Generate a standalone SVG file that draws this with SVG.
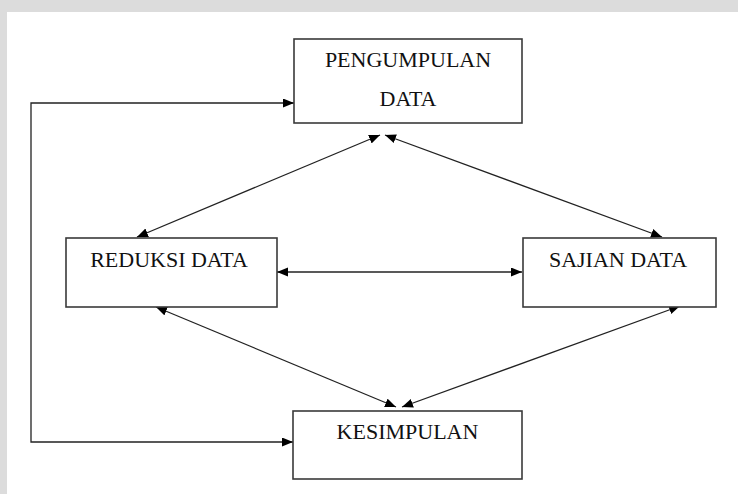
<svg xmlns="http://www.w3.org/2000/svg" width="738" height="494" viewBox="0 0 738 494">
<defs>
<style>
.box{fill:#fff;stroke:#3a3a3a;stroke-width:1.6}
.lbl{font-family:"Liberation Serif","Times New Roman",serif;font-size:22px;fill:#111;text-anchor:middle}
.con{fill:none;stroke:#222;stroke-width:1.3}
</style>
<marker id="ah" markerUnits="userSpaceOnUse" markerWidth="12" markerHeight="10" refX="11" refY="4.5" orient="auto-start-reverse">
<path d="M0,0 L11,4.5 L0,9 z" fill="#000"/>
</marker>
</defs>
<rect x="0" y="0" width="738" height="494" fill="#dcdcdc"/>
<rect x="7" y="12" width="731" height="482" fill="#fff"/>
<g id="connectors" class="con">
<path class="con" d="M294,103 H31 V442 H293" marker-start="url(#ah)" marker-end="url(#ah)"/>
<path class="con" d="M277,272 H522" marker-start="url(#ah)" marker-end="url(#ah)"/>
<path class="con" d="M380,135 L137,237" marker-start="url(#ah)" marker-end="url(#ah)"/>
<path class="con" d="M385,135 L662,237" marker-start="url(#ah)" marker-end="url(#ah)"/>
<path class="con" d="M156,307 L396,407" marker-start="url(#ah)" marker-end="url(#ah)"/>
<path class="con" d="M680,306 L402,407" marker-start="url(#ah)" marker-end="url(#ah)"/>
</g>
<g id="pengumpulan">
<rect class="box" x="294" y="39" width="228" height="84"/>
<text class="lbl" x="408" y="67">PENGUMPULAN</text>
<text class="lbl" x="408" y="106">DATA</text>
</g>
<g id="reduksi">
<rect class="box" x="66" y="238" width="211" height="69"/>
<text class="lbl" x="169" y="267">REDUKSI DATA</text>
</g>
<g id="sajian">
<rect class="box" x="523" y="238" width="193" height="69"/>
<text class="lbl" x="618" y="267">SAJIAN DATA</text>
</g>
<g id="kesimpulan">
<rect class="box" x="293" y="411" width="229" height="68"/>
<text class="lbl" x="407.5" y="439">KESIMPULAN</text>
</g>
</svg>
